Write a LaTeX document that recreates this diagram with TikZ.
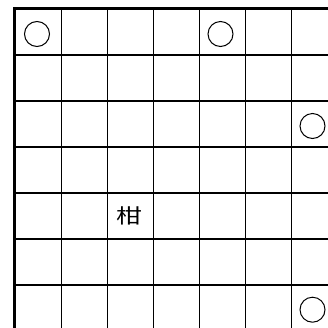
\documentclass[tikz,border=0pt]{standalone}
\usepackage{fontspec}
\usepackage{graphicx}
\newfontfamily\cjk{Noto Sans CJK SC}
\begin{document}
\begin{tikzpicture}[x=1pt,y=-1pt,
  gridline/.style={line width=1.5pt, black},
  border/.style={line width=2.8pt, black},
  stone/.style={draw=black, line width=1pt, circle, minimum size=25pt, inner sep=0pt},
  boardlabel/.style={font=\cjk\fontsize{20}{20}\selectfont, inner sep=0pt}]
\useasboundingbox (0,0) rectangle (328,327);
\fill[white] (0,0) rectangle (328,327);
\begin{scope}
\clip (0,0) rectangle (328,327);
\foreach \i in {0,...,5} {
  \draw[gridline] (61.3+46*\i, 8.7) -- (61.3+46*\i, 340);
  \draw[gridline] (14.7, 55.2+46*\i) -- (340, 55.2+46*\i);
}
\draw[border] (14.7, 7.3) -- (14.7, 340);
\draw[border] (13.3, 8.7) -- (340, 8.7);
\end{scope}
\node[stone] (c1) at (37, 34) {};
\node[stone] (c2) at (220.5, 34) {};
\node[stone] (c3) at (312.5, 126) {};
\node[stone] (c4) at (312.5, 309.7) {};
\node[boardlabel] (t) at (129, 215.5) {\scalebox{1.3}[1]{柑}};
\end{tikzpicture}
\end{document}
